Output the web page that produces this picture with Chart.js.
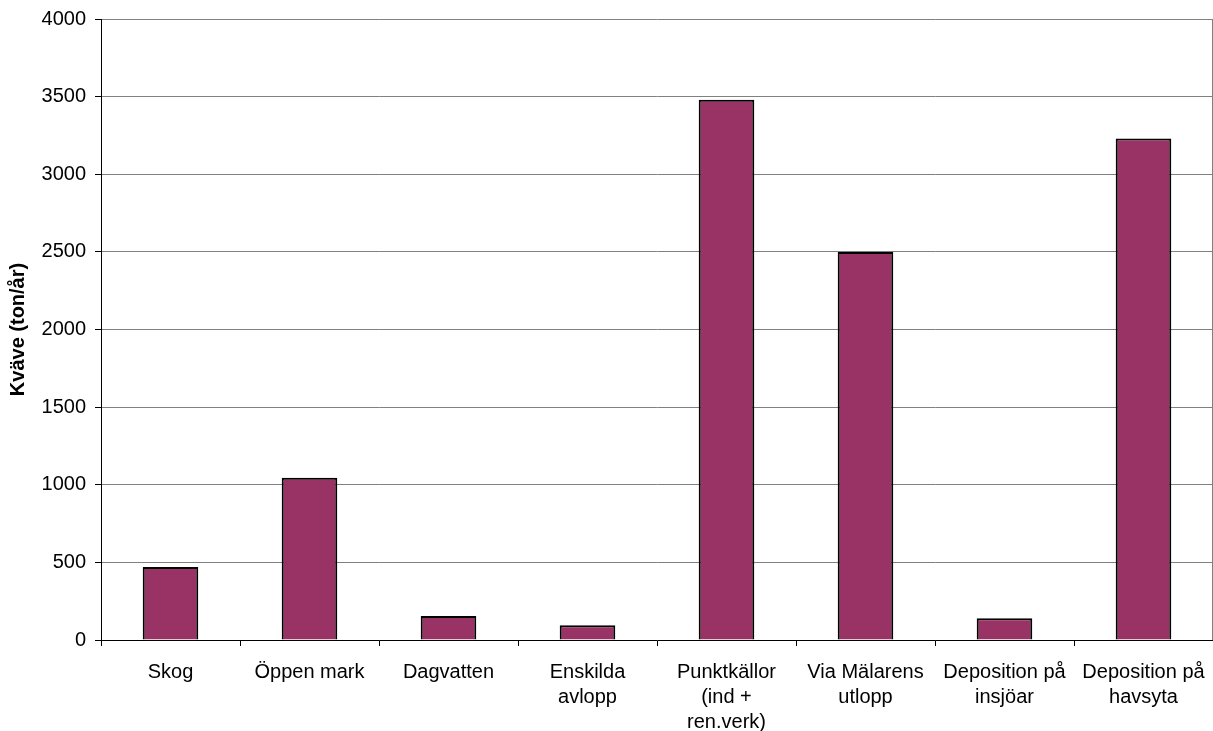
<!DOCTYPE html>
<html>
<head>
<meta charset="utf-8">
<script src="https://cdn.jsdelivr.net/npm/chart.js@4/dist/chart.umd.min.js"></script>
<style>
  html, body { margin: 0; padding: 0; background: #ffffff; }
  #wrap { width: 1213px; height: 731px; }
</style>
</head>
<body>
<div id="wrap"><canvas id="c" width="1213" height="731"></canvas></div>
<script>
// Kvävebelastning per källa (ton/år)
const categories = [
  'Skog',
  'Öppen mark',
  'Dagvatten',
  ['Enskilda', 'avlopp'],
  ['Punktkällor', '(ind +', 'ren.verk)'],
  ['Via Mälarens', 'utlopp'],
  ['Deposition på', 'insjöar'],
  ['Deposition på', 'havsyta']
];
const nitrogen = [470, 1045, 155, 95, 3480, 2500, 140, 3230];
const yTicks = [0, 500, 1000, 1500, 2000, 2500, 3000, 3500, 4000];
const yTitle = 'Kväve (ton/år)';

const FONT = "'Liberation Sans', Arial, sans-serif";

// gray frame line on the right edge of the plot area
const rightFrame = {
  id: 'rightFrame',
  afterDraw(chart) {
    const { ctx, chartArea } = chart;
    ctx.save();
    ctx.strokeStyle = '#808080';
    ctx.lineWidth = 1;
    ctx.beginPath();
    ctx.moveTo(chartArea.right - 0.5, chartArea.top);
    ctx.lineTo(chartArea.right - 0.5, chartArea.bottom);
    ctx.stroke();
    ctx.restore();
  }
};

new Chart(document.getElementById('c'), {
  type: 'bar',
  data: {
    labels: categories,
    datasets: [{
      data: nitrogen,
      backgroundColor: '#993366',
      borderColor: '#000000',
      borderWidth: 2,
      barPercentage: 0.40,
      categoryPercentage: 1.0
    }]
  },
  options: {
    responsive: false,
    animation: false,
    layout: { padding: { top: 19, right: 0, left: 0, bottom: 0 } },
    plugins: {
      legend: { display: false },
      tooltip: { enabled: false }
    },
    scales: {
      x: {
        offset: true,
        grid: {
          offset: true,
          drawOnChartArea: false,
          drawTicks: true,
          tickLength: 6,
          tickColor: '#000000'
        },
        border: { color: '#000000', width: 1 },
        ticks: {
          color: '#000000',
          font: { family: FONT, size: 20, lineHeight: 1.25 },
          padding: 14,
          autoSkip: false,
          maxRotation: 0,
          minRotation: 0
        },
        afterFit(scale) {
          scale.height = 91;
          scale.paddingLeft = 0;
          scale.paddingRight = 0;
        }
      },
      y: {
        min: 0,
        max: 4000,
        afterBuildTicks(scale) { scale.ticks = yTicks.map(v => ({ value: v })); },
        grid: {
          color: '#808080',
          lineWidth: 1,
          drawTicks: true,
          tickLength: 6,
          tickColor: '#000000'
        },
        border: { color: '#000000', width: 1 },
        ticks: {
          color: '#000000',
          font: { family: FONT, size: 20 },
          padding: 9,
          callback: (v) => String(v)
        },
        title: {
          display: true,
          text: yTitle,
          color: '#000000',
          font: { family: FONT, size: 20, weight: 'bold' },
          padding: { top: 6, bottom: 4 }
        },
        afterFit(scale) {
          scale.width = 101;
          scale.paddingTop = 0;
          scale.paddingBottom = 0;
        }
      }
    }
  },
  plugins: [rightFrame]
});
</script>
</body>
</html>
